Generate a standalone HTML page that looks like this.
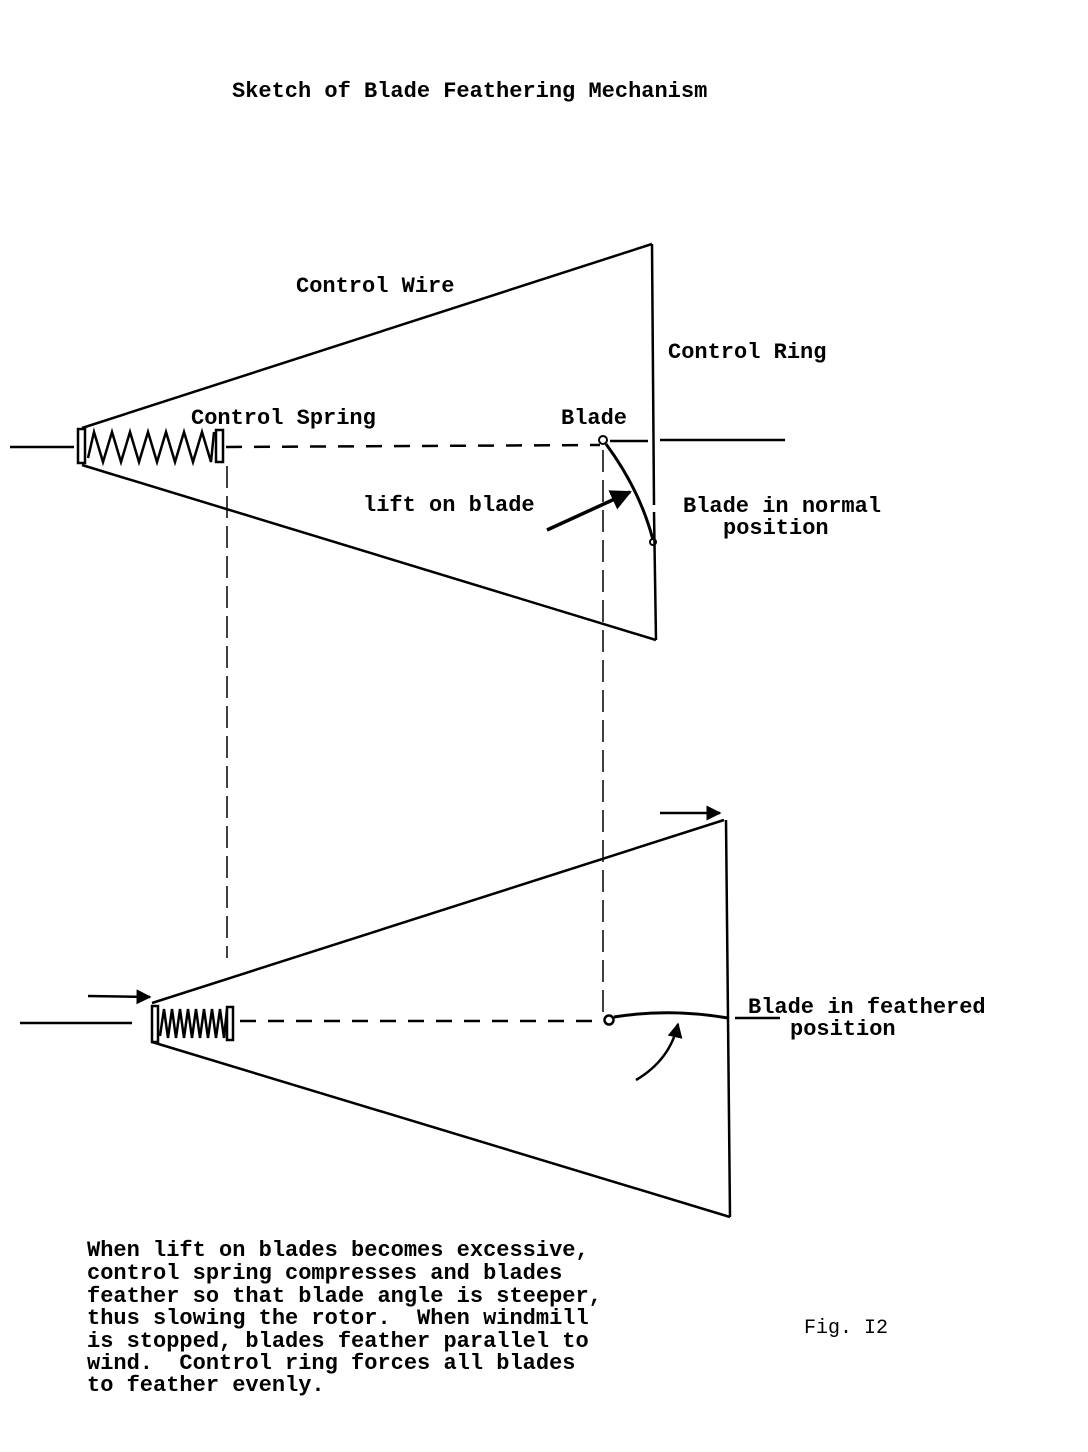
<!DOCTYPE html>
<html><head><meta charset="utf-8"><style>
html,body{margin:0;padding:0;background:#fff}
svg{display:block}
text{font-family:"Liberation Mono",monospace;font-size:22px;fill:#000;font-weight:bold;white-space:pre}
</style></head><body>
<svg width="1088" height="1452" viewBox="0 0 1088 1452" xmlns="http://www.w3.org/2000/svg">
<defs><marker id="ah" viewBox="0 0 10 10" refX="9" refY="5" markerWidth="6" markerHeight="6" orient="auto"><path d="M0,0 L10,5 L0,10 z" fill="#000"/></marker></defs>
<g stroke="#000" fill="none" stroke-width="2.5">
<text x="232" y="97" stroke="none">Sketch of Blade Feathering Mechanism</text>
<line x1="82" y1="428" x2="652" y2="244"/>
<line x1="82" y1="465" x2="656" y2="640"/>
<line x1="652" y1="244" x2="654" y2="505"/>
<line x1="654" y1="512" x2="656" y2="640"/>
<line x1="10" y1="447" x2="74" y2="447"/>
<rect x="78" y="429" width="7" height="34"/>
<polyline points="88,458 94,432 103,462 112,432 121,462 130,432 139,462 148,432 157,462 166,432 175,462 184,432 193,462 202,432 211,462 214,432"/>
<rect x="216" y="430" width="7" height="32"/>
<line x1="226" y1="447" x2="600" y2="445" stroke-dasharray="16,12"/>
<line x1="610" y1="441" x2="648" y2="441"/>
<line x1="660" y1="440" x2="785" y2="440"/>
<line x1="227" y1="466" x2="227" y2="958" stroke-width="1.5" stroke-dasharray="22,8"/>
<line x1="603" y1="450" x2="603" y2="1013" stroke-width="1.5" stroke-dasharray="22,8"/>
<circle cx="603" cy="440" r="4" stroke-width="2"/>
<path d="M606,444 Q640,490 653,540" stroke-width="3"/>
<circle cx="653" cy="542" r="3" stroke-width="2"/>
<line x1="547" y1="530" x2="630" y2="492" stroke-width="3.5" marker-end="url(#ah)"/>
<text x="296" y="292" stroke="none">Control Wire</text>
<text x="668" y="358" stroke="none">Control Ring</text>
<text x="191" y="424" stroke="none">Control Spring</text>
<text x="561" y="424" stroke="none">Blade</text>
<text x="363" y="511" stroke="none">lift on blade</text>
<text x="683" y="512" stroke="none">Blade in normal</text>
<text x="723" y="534" stroke="none">position</text>
<line x1="152" y1="1003" x2="724" y2="820"/>
<line x1="152" y1="1042" x2="730" y2="1217"/>
<line x1="726" y1="820" x2="730" y2="1217"/>
<line x1="20" y1="1023" x2="132" y2="1023"/>
<rect x="152" y="1006" width="6" height="36"/>
<polyline points="160,1036 164,1009 168,1038 172,1009 176,1038 180,1009 184,1038 188,1009 192,1038 196,1009 200,1038 204,1009 208,1038 212,1009 216,1038 220,1009 224,1038 227,1009"/>
<rect x="227" y="1007" width="6" height="33"/>
<line x1="240" y1="1021" x2="604" y2="1021" stroke-dasharray="16,12"/>
<circle cx="609" cy="1020" r="4.5" stroke-width="2.5"/>
<path d="M614,1017 Q670,1008 728,1018" stroke-width="3"/>
<line x1="735" y1="1018" x2="780" y2="1018"/>
<line x1="660" y1="813" x2="720" y2="813" stroke-width="2.5" marker-end="url(#ah)"/>
<line x1="88" y1="996" x2="150" y2="997" stroke-width="2.5" marker-end="url(#ah)"/>
<path d="M636,1080 Q670,1060 678,1024" stroke-width="2.5" marker-end="url(#ah)"/>
<text x="748" y="1013" stroke="none">Blade in feathered</text>
<text x="790" y="1035" stroke="none">position</text>
<g style="font-size:21.2px">
<text x="87" y="1256" stroke="none">When lift on blades becomes excessive,</text>
<text x="87" y="1279" stroke="none">control spring compresses and blades</text>
<text x="87" y="1302" stroke="none">feather so that blade angle is steeper,</text>
<text x="87" y="1324" stroke="none">thus slowing the rotor.  When windmill</text>
<text x="87" y="1347" stroke="none">is stopped, blades feather parallel to</text>
<text x="87" y="1369" stroke="none">wind.  Control ring forces all blades</text>
<text x="87" y="1391" stroke="none">to feather evenly.</text>
</g>
<text x="804" y="1333" stroke="none" style="font-size:20px;font-weight:normal">Fig. I2</text>
</g>
</svg>
</body></html>
